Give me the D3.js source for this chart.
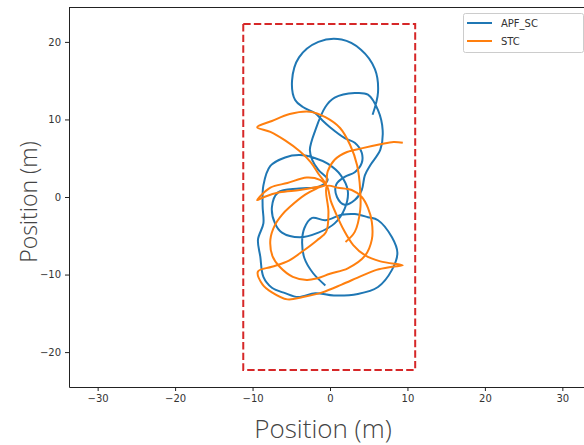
<!DOCTYPE html>
<html><head><meta charset="utf-8">
<script src="https://cdn.jsdelivr.net/npm/d3@7"></script>
<style>body{margin:0;background:#fff}svg{display:block}</style>
</head><body><div id="chart"></div>
<script>
const xTicks = [-30,-20,-10,0,10,20,30];
const yTicks = [-20,-10,0,10,20];
const seriesNames = ["APF_SC","STC"];
const boundaryX = [-11.2, 11.0];
const boundaryY = [-22.3, 22.3];
const apfX = [5.5,6.2,5.8,4.0,1.5,-1.5,-4.0,-4.9,-4.5,-3.5,-1.9,-1.0,0.0,1.9,3.2,4.1,4.1,3.2,1.9,0.8,0.9,1.9,3.2,4.1,4.5,5.2,6.5,6.8,6.2,4.9,3.2,0.6,-0.6,-1.9,-2.6,-2.3,-1.5,-0.3,-1.5,-4.0,-6.7,-7.5,-7.1,-6.2,-3.9,-1.5,0.6,1.9,2.3,1.4,-0.3,-1.9,-3.9,-5.8,-7.7,-8.6,-8.7,-8.6,-9.3,-9.0,-8.6,-7.5,-5.8,-4.1,-1.9,0.5,3.6,6.2,8.0,8.7,8.0,6.2,4.9,3.2,1.5,-0.6,-2.3,-3.3,-3.6,-3.3,-2.2,-0.6];
const apfY = [10.6,13.5,16.5,19.0,20.3,20.0,18.0,15.0,12.5,11.6,10.8,9.9,9.0,7.6,7.0,5.7,4.4,3.2,2.6,1.6,0.0,-1.0,-0.4,0.9,2.8,4.1,6.1,8.6,11.2,13.2,13.4,12.8,11.6,8.6,6.1,4.8,3.5,2.2,1.3,1.1,0.6,-1.3,-3.4,-4.6,-5.2,-4.6,-3.4,-1.5,0.8,2.8,4.3,5.0,5.4,5.1,4.0,1.5,-1.2,-3.4,-5.5,-7.7,-10.3,-11.7,-12.4,-12.9,-12.4,-12.7,-12.5,-11.6,-9.4,-7.2,-5.2,-3.0,-2.6,-2.2,-2.3,-3.0,-2.7,-4.0,-5.8,-7.9,-9.8,-11.4];
const stcX = [9.4,8.2,6.5,4.2,2.2,0.6,-0.3,-0.6,-1.7,-3.9,-6.5,-8.5,-9.4,-7.7,-5.5,-3.0,-1.3,-0.4,0.1,0.8,1.8,3.0,4.5,6.5,9.4,8.0,6.0,4.0,1.5,-1.0,-3.5,-5.5,-7.5,-8.7,-9.3,-7.5,-5.3,-3.4,-1.7,-0.5,-0.2,-0.4,1.0,2.8,4.1,4.9,5.4,5.4,4.5,2.3,0.0,-1.7,-3.0,-4.8,-6.5,-7.4,-7.7,-7.1,-6.2,-5.2,-3.2,-1.5,-0.6,-1.5,-2.5,-3.9,-5.8,-7.7,-9.4,-7.5,-5.2,-2.6,-0.6,1.3,2.6,3.5,3.9,3.9,3.2,2.0];
const stcY = [7.0,7.1,6.8,6.3,5.8,4.8,3.3,1.6,1.3,0.9,0.6,0.0,-0.4,1.2,1.8,2.5,2.2,1.4,-0.5,-2.2,-4.3,-6.2,-7.5,-8.3,-8.8,-9.0,-9.4,-10.2,-11.3,-12.3,-12.9,-13.2,-12.3,-11.3,-9.6,-9.0,-8.2,-6.9,-5.6,-4.5,-2.0,1.4,1.2,0.9,0.0,-1.4,-3.2,-5.5,-7.6,-9.2,-9.9,-10.5,-10.7,-10.3,-9.0,-7.7,-5.5,-3.6,-2.3,-1.3,0.3,1.2,1.6,3.0,4.5,5.9,7.3,8.4,9.0,9.8,10.7,11.0,10.3,8.9,6.7,4.1,0.9,-1.7,-4.5,-5.8];

const W=584,H=445;
const m={l:69,r:-7,t:7,b:58};
const svg=d3.select("#chart").append("svg").attr("width",W).attr("height",H);
const x=d3.scaleLinear().domain([-33.7,33.7]).range([m.l,W-m.r]);
const y=d3.scaleLinear().domain([-24.5,24.5]).range([H-m.b,m.t]);
const fmt=d=>d<0?"\u2212"+Math.abs(d):String(d);

const line=d3.line().x(d=>x(d[0])).y(d=>y(d[1])).curve(d3.curveCatmullRom.alpha(0.5));
const apf=apfX.map((v,i)=>[v,apfY[i]]);
const stc=stcX.map((v,i)=>[v,stcY[i]]);
const colors=["#1f77b4","#ff7f0e"];

// boundary
const bx=[boundaryX[0],boundaryX[1],boundaryX[1],boundaryX[0],boundaryX[0]];
const by=[boundaryY[1],boundaryY[1],boundaryY[0],boundaryY[0],boundaryY[1]];
svg.append("path").attr("d",d3.line().x(d=>x(d[0])).y(d=>y(d[1]))(bx.map((v,i)=>[v,by[i]])))
  .attr("fill","none").attr("stroke","#d62728").attr("stroke-width",2).attr("stroke-dasharray","7.4,3.2");

svg.append("path").attr("d",line(apf)).attr("fill","none").attr("stroke",colors[0]).attr("stroke-width",2).attr("stroke-linejoin","round");
svg.append("path").attr("d",line(stc)).attr("fill","none").attr("stroke",colors[1]).attr("stroke-width",2).attr("stroke-linejoin","round");

// axes
const xa=svg.append("g").attr("transform",`translate(0,${H-m.b})`).call(d3.axisBottom(x).tickValues(xTicks).tickFormat(fmt).tickSize(4).tickSizeOuter(0).tickPadding(4));
const ya=svg.append("g").attr("transform",`translate(${m.l},0)`).call(d3.axisLeft(y).tickValues(yTicks).tickFormat(fmt).tickSize(4).tickSizeOuter(0).tickPadding(4));
[xa,ya].forEach(g=>{g.selectAll("text").attr("font-family","DejaVu Sans").attr("font-size",10).attr("fill","#333");
  g.select(".domain").attr("stroke","#222");g.selectAll(".tick line").attr("stroke","#222");});
svg.append("line").attr("x1",m.l).attr("x2",W).attr("y1",m.t+0.5).attr("y2",m.t+0.5).attr("stroke","#222");

svg.append("text").attr("x",323).attr("y",438).attr("text-anchor","middle").attr("font-family","Open Sans").attr("font-weight",300).attr("font-size",26).attr("fill","#444").text("Position (m)");
svg.append("text").attr("transform","translate(37,202) rotate(-90)").attr("text-anchor","middle").attr("font-family","Open Sans").attr("font-weight",300).attr("font-size",23).attr("fill","#444").text("Position (m)");

// legend
const lg=svg.append("g");
lg.append("rect").attr("x",463.5).attr("y",13.5).attr("width",120).attr("height",39).attr("rx",2).attr("fill","#fff").attr("stroke","#ccc");
seriesNames.forEach((n,i)=>{
  lg.append("line").attr("x1",467).attr("x2",492).attr("y1",23+i*18).attr("y2",23+i*18).attr("stroke",colors[i]).attr("stroke-width",2);
  lg.append("text").attr("x",501).attr("y",27+i*18).attr("font-family","DejaVu Sans").attr("font-size",10).attr("fill","#333").text(n);
});
</script></body></html>
